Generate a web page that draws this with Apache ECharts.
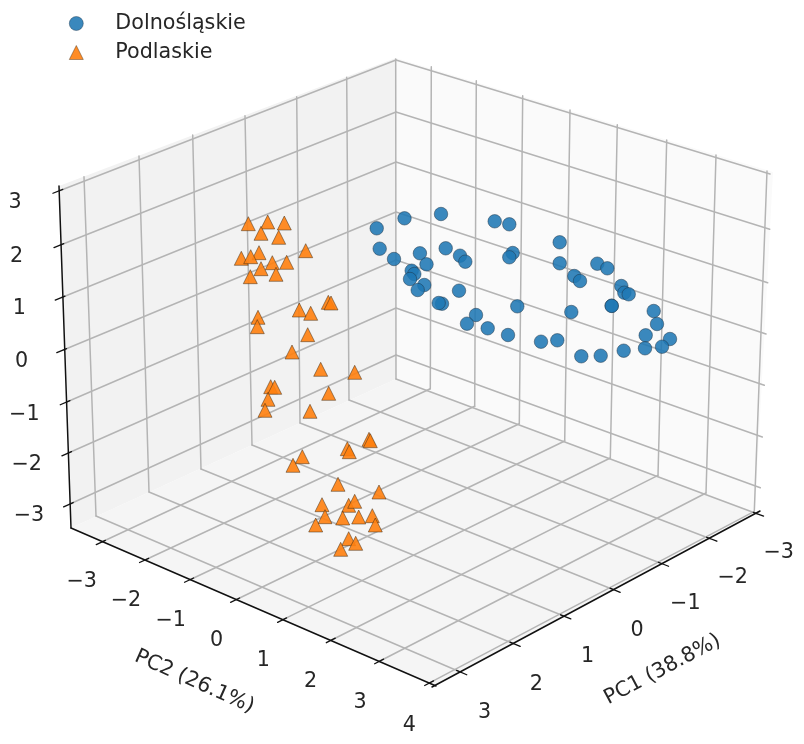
<!DOCTYPE html>
<html><head><meta charset="utf-8">
<style>html,body{margin:0;padding:0;background:#fff}#c{width:804px;height:744px;filter:blur(0.5px)}</style>
<script src="https://cdn.jsdelivr.net/npm/echarts@6/dist/echarts.min.js"></script>
</head><body><div id="c"></div>
<script>
const dolnoslaskie = [[376.7,228.3],[404.5,218.3],[441,214],[494.7,221.3],[509.3,224.3],[559.7,242.3],[559.7,263.3],[597.3,263.7],[607.3,268.3],[574.3,276],[580,281],[621.3,286],[624.3,292.7],[628.7,294.3],[611.7,305.7],[611.7,305.9],[653.7,311],[657,324],[645.7,335.3],[670,339],[645,348.3],[662,346.7],[623.7,350.7],[600.7,355.7],[581.3,356.3],[557.3,340.3],[541,341.7],[571.3,312],[517.3,306.3],[508,335],[487.7,328.3],[476,315],[467,323.7],[459,290.7],[442,303.7],[438.7,303],[445.7,248.3],[419.9,253.3],[426.5,264.3],[460,255.7],[465.3,261.7],[512.7,253],[509.3,257.3],[411.7,270.7],[414.3,274],[410,279],[424.3,285],[417.7,290],[379.7,248.7],[394,259]];
const podlaskie = [[248.3,223.7],[267.7,222],[284.3,223],[261,233.3],[278.7,237.3],[305.7,250.7],[259,252.7],[241.3,258.3],[250.7,256.7],[272.3,262.7],[286.7,262.3],[261,268.7],[276,274.3],[250.3,276.7],[299.3,310],[310.7,313.3],[328.3,302.3],[331,303],[258,317.3],[257.3,326.7],[307.7,334.7],[292,352],[320.7,369.3],[354.7,372.3],[270.7,386.7],[274.7,387.3],[268,399.3],[265,410.3],[328.7,393.3],[310,411.3],[302.3,456.7],[293,465.3],[347.3,448.7],[349.3,451.7],[369,439.3],[370.3,440.7],[338,484.3],[379,492],[322,504.7],[348.7,505.3],[354.7,501.3],[325,516.7],[342.7,518],[358.7,517],[372.3,515.7],[375.3,525],[315.7,525],[348.7,538.7],[355.7,543.3],[340.7,549.3]];
const seriesNames = ['Dolnośląskie','Podlaskie'];
const pc1Ticks = ['3','2','1','0','−1','−2','−3'];
const pc2Ticks = ['−3','−2','−1','0','1','2','3','4'];
const pc3Ticks = ['3','2','1','0','−1','−2','−3'];
const pc1Title = 'PC1 (38.8%)';
const pc2Title = 'PC2 (26.1%)';
// picture-plane geometry of the box
const wallLeft = [[59,186],[396,58],[396,379],[71,528]];
const wallRight = [[396,58],[773,172],[755,512],[396,379]];
const floorPane = [[71,528],[396,379],[755,512],[435,685]];
const pc1Front = [[460.3,672],[513.7,643.7],[564.3,616.3],[613.7,589.7],[662,563.7],[710.3,538.7],[757,513.7]];
const pc1FloorBack = [[96,516],[149,492],[201,469],[252,445],[300,423],[349,400],[396,379]];
const pc1WallTop = [[84,176.7],[139,156],[192.7,135],[245,115.7],[296.7,96.7],[346.7,77.3],[395.7,59]];
const pc2Front = [[101.7,542],[145,560],[190,579.7],[236,599.7],[283,619.7],[331.7,640],[380,661],[430,682.7]];
const pc2FloorBack = [[430.3,388.7],[474.7,406.3],[519.3,423.7],[564.7,441],[610.3,458],[658,475.3],[706,493],[754.3,511.3]];
const pc2WallTop = [[431.3,66.7],[476.3,80.7],[522.7,95.7],[570,110],[617.3,124.7],[666.7,140],[716,155],[767,171]];
const pc3Left = [[59.5,190.7],[60.5,245],[61.7,297.5],[63.3,350],[66.7,402],[68.3,453],[70,504]];
const pc3Back = [[396,60],[396,112],[396,162],[396,212],[396,260],[396,308],[396,355]];
const pc3Right = [[770,174],[769.7,229.3],[767.7,282.7],[766,334],[764.3,385.3],[762.3,437],[760.3,487.7]];
const pc1LabelPos = [[484.7,712.8],[536.3,684.5],[587.7,656.8],[637,630.2],[685.3,603.5],[732.7,577.5],[778.7,552.8]];
const pc2LabelPos = [[81.7,581.2],[126,600.8],[170.7,620.8],[216.7,640.2],[263.3,660.8],[310.7,681.8],[360,702.8],[409.3,725.2]];
const pc3LabelPos = [[15,202.5],[16.7,256.5],[19.3,308.2],[21.7,361.5],[24.3,414.2],[26.7,464.2],[29,515.2]];
const axisLines = [[[59,186],[71,528]],[[71,528],[436,686]],[[432,687],[760,511]]];

const gridSegs = [];
pc1Front.forEach((p,i)=>{gridSegs.push([p,pc1FloorBack[i]]);gridSegs.push([pc1FloorBack[i],pc1WallTop[i]]);});
pc2Front.forEach((p,i)=>{gridSegs.push([p,pc2FloorBack[i]]);gridSegs.push([pc2FloorBack[i],pc2WallTop[i]]);});
pc3Left.forEach((p,i)=>{gridSegs.push([p,pc3Back[i]]);gridSegs.push([pc3Back[i],pc3Right[i]]);});

function tick(p,q,out,inn){
  const dx=q[0]-p[0],dy=q[1]-p[1],l=Math.hypot(dx,dy),ux=dx/l,uy=dy/l;
  return [[p[0]-ux*out,p[1]-uy*out],[p[0]+ux*inn,p[1]+uy*inn]];
}
const tickSegs = [];
pc1Front.forEach((p,i)=>tickSegs.push(tick(p,pc1FloorBack[i],7,4)));
pc2Front.forEach((p,i)=>tickSegs.push(tick(p,pc2FloorBack[i],6,4)));
pc3Left.forEach((p,i)=>tickSegs.push(tick(p,pc3Back[i],7,3.5)));

const labels = [];
pc1Ticks.forEach((t,i)=>labels.push({p:pc1LabelPos[i],t,r:0}));
pc2Ticks.forEach((t,i)=>labels.push({p:pc2LabelPos[i],t,r:0}));
pc3Ticks.forEach((t,i)=>labels.push({p:pc3LabelPos[i],t,r:0}));
labels.push({p:[662.5,669.7],t:pc1Title,r:28});
labels.push({p:[194.3,681.8],t:pc2Title,r:-24});

const FONT='"DejaVu Sans"';
const FS=20.7;
function polySeries(pts,fill){
  return {type:'custom',silent:true,coordinateSystem:'cartesian2d',data:[0],z:1,
    renderItem:(_,api)=>({type:'polygon',shape:{points:pts.map(p=>api.coord(p))},style:{fill,stroke:'none'}})};
}
function segSeries(segs,stroke,width,z){
  return {type:'custom',silent:true,coordinateSystem:'cartesian2d',z,
    data:segs.map(s=>[s[0][0],s[0][1],s[1][0],s[1][1]]),
    renderItem:(_,api)=>{
      const a=api.coord([api.value(0),api.value(1)]),b=api.coord([api.value(2),api.value(3)]);
      return {type:'line',shape:{x1:a[0],y1:a[1],x2:b[0],y2:b[1]},style:{stroke,lineWidth:width,lineCap:'round'}};
    }};
}
const chart = echarts.init(document.getElementById('c'),null,{renderer:'canvas'});
chart.setOption({
  animation:false,backgroundColor:'#ffffff',
  grid:{left:0,right:0,top:0,bottom:0},
  xAxis:{type:'value',min:0,max:804,show:false},
  yAxis:{type:'value',min:0,max:744,inverse:true,show:false},
  legend:{orient:'vertical',left:64,top:8,itemWidth:14,itemHeight:14,itemGap:8,
    data:seriesNames,selectedMode:false,
    itemStyle:{borderWidth:0.6},
    textStyle:{fontFamily:FONT,fontSize:FS,color:'#262626',padding:[0,0,2,27]}},
  series:[
    polySeries(wallLeft,'#f2f2f2'),
    polySeries(wallRight,'#fafafa'),
    polySeries(floorPane,'#f5f5f5'),
    segSeries(gridSegs,'#b4b4b4',1.5,2),
    segSeries(axisLines,'#111111',1.5,3),
    segSeries(tickSegs,'#111111',1.3,3),
    {type:'custom',silent:true,coordinateSystem:'cartesian2d',z:6,data:labels.map((_,i)=>i),
      renderItem:(params,api)=>{
        const l=labels[api.value(0)],c=api.coord(l.p);
        return {type:'text',x:c[0],y:c[1],rotation:l.r*Math.PI/180,
          style:{text:l.t,fontFamily:FONT,fontSize:FS,fill:'#262626',align:'center',verticalAlign:'middle'}};
      }},
    {name:seriesNames[0],type:'scatter',data:dolnoslaskie,symbol:'circle',symbolSize:13.5,z:5,silent:true,
      itemStyle:{color:'rgba(31,119,180,0.88)',borderColor:'rgba(30,50,70,0.7)',borderWidth:0.7,opacity:1}},
    {name:seriesNames[1],type:'scatter',data:podlaskie,symbol:'triangle',symbolSize:[14,14],z:5,silent:true,
      itemStyle:{color:'rgba(255,127,14,0.9)',borderColor:'rgba(60,40,20,0.7)',borderWidth:0.7,opacity:1}}
  ]
});
</script></body></html>
